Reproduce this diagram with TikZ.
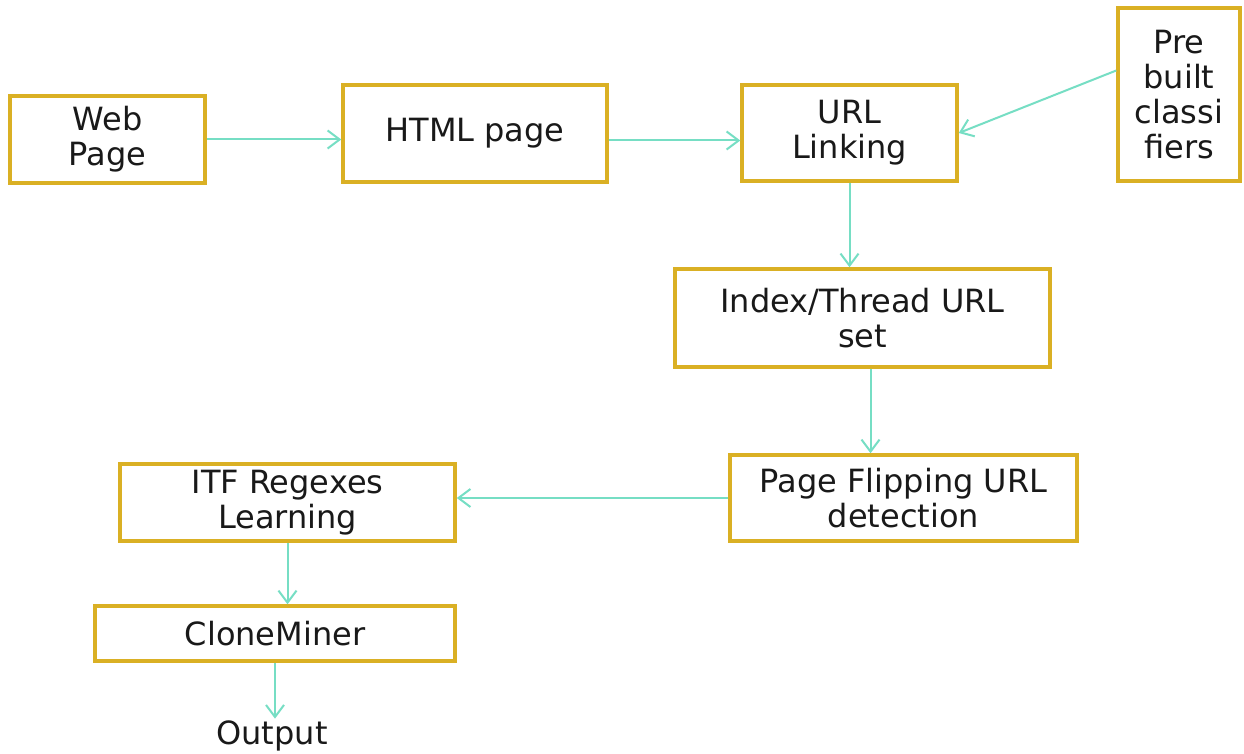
\documentclass[tikz,border=0pt]{standalone}
\usepackage{fontspec}
\setmainfont{DejaVu Sans}
\usetikzlibrary{arrows.meta}
\definecolor{boxgold}{RGB}{218,176,36}
\definecolor{flowteal}{RGB}{118,222,196}
\begin{document}
\begin{tikzpicture}[x=1pt,y=-1pt,
  stage/.style={draw=boxgold, line width=3.5pt, fill=white, align=center,
    inner sep=0pt, text=black!90, font=\fontsize{32}{35}\selectfont},
  flow/.style={draw=flowteal, line width=2pt,
    -{Straight Barb[length=12pt,width=18pt]}}]
\useasboundingbox (0,0) rectangle (1244,754);
\fill[white] (0,0) rectangle (1244,754);

% processing stages
\node[stage, minimum width=195pt, minimum height=87pt] (web) at (107.5,139.5) {Web\\Page};
\node[stage, minimum width=264pt, minimum height=97pt] (html) at (475,133.5) {HTML page};
\node[stage, minimum width=215pt, minimum height=96pt] (url) at (849.5,133) {URL\\Linking};
\node[stage, minimum width=122pt, minimum height=173pt] (pre) at (1179,94.5) {Pre\\built\\classi\\fiers};
\node[stage, minimum width=375pt, minimum height=98pt] (idx) at (862.5,318) {Index/Thread URL\\set};
\node[stage, minimum width=347pt, minimum height=86pt] (pf) at (903.5,498) {Page Flipping URL\\detection};
\node[stage, minimum width=335pt, minimum height=77pt] (itf) at (287.5,502.5) {ITF Regexes\\Learning};
\node[stage, minimum width=360pt, minimum height=55pt] (clone) at (275,633.5) {CloneMiner};
\node[text=black!90, inner sep=0pt, font=\fontsize{32}{35}\selectfont] (out) at (272,736) {Output};

% data flow
\draw[flow] (web.east) -- (web.east -| html.west);
\draw[flow] ([yshift=-7pt]html.east) -- ([yshift=-7pt]html.east -| url.west);
\draw[flow] ([yshift=24pt]pre.west) -- (url.east);
\draw[flow] (url.south) -- (url.south |- idx.north);
\draw[flow] ([xshift=8pt]idx.south) -- ([xshift=8pt]idx.south |- pf.north);
\draw[flow] (pf.west) -- (pf.west -| itf.east);
\draw[flow] (itf.south) -- (itf.south |- clone.north);
\draw[flow] (clone.south) -- ([yshift=2pt]clone.south |- out.north);
\end{tikzpicture}
\end{document}
